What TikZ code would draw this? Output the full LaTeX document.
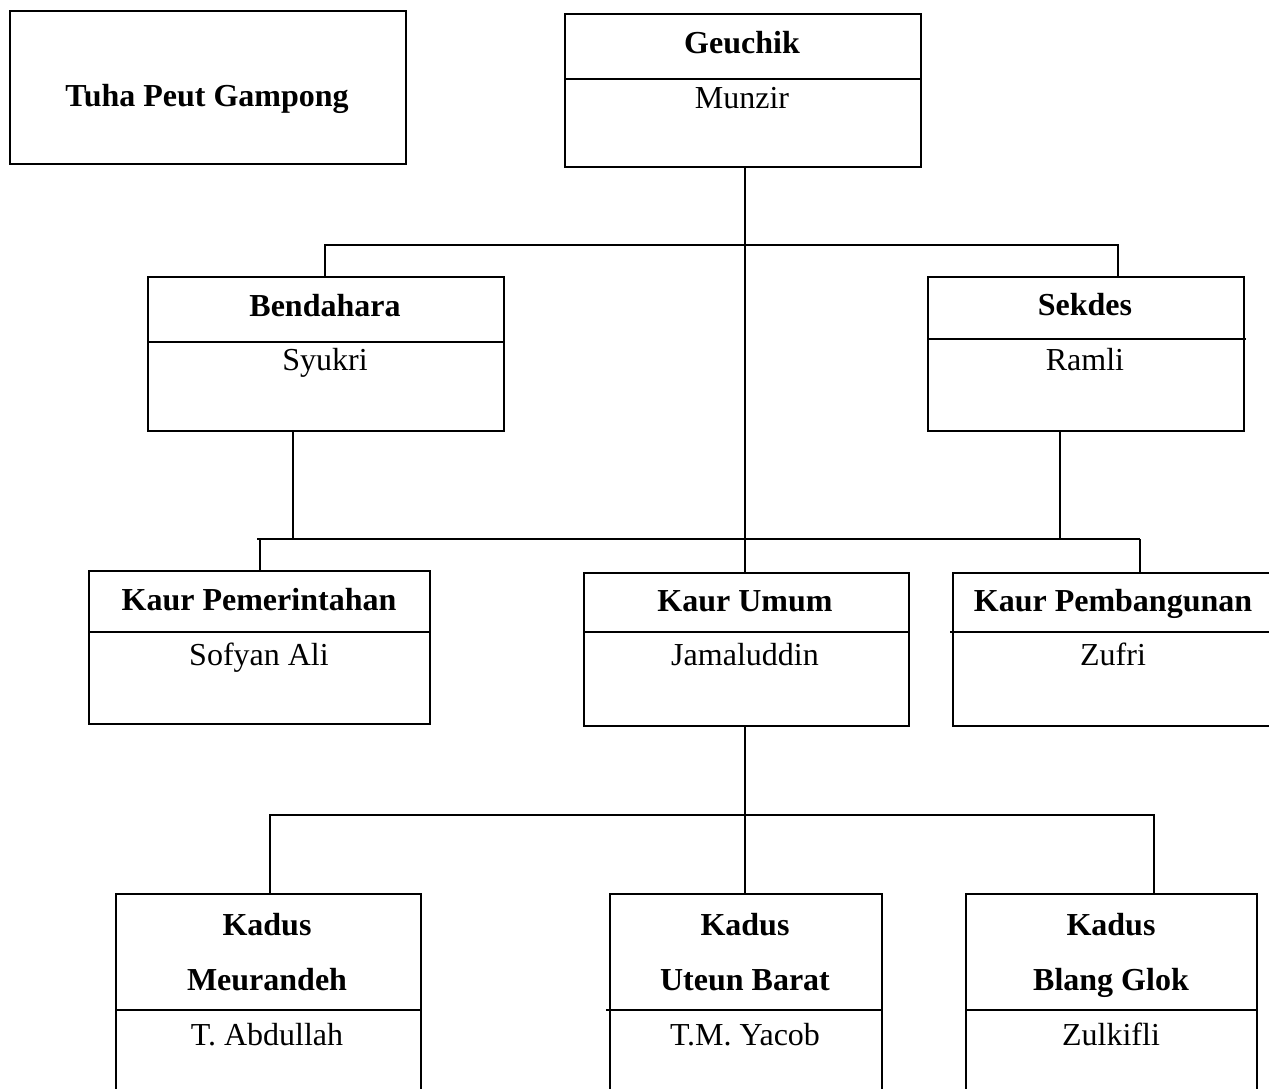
\documentclass[tikz,border=0pt]{standalone}
\usepackage{fontspec}
\setmainfont{Liberation Serif}
\usetikzlibrary{calc}
\begin{document}
\begin{tikzpicture}[x=1pt,y=-1pt,
  box/.style={draw, line width=1.5pt, inner sep=0pt, anchor=north west},
  conn/.style={line width=1.5pt},
  divline/.style={line width=1.5pt},
  ttl/.style={anchor=base, inner sep=0pt, font=\fontsize{32}{38}\selectfont\bfseries},
  nm/.style={anchor=base, inner sep=0pt, font=\fontsize{32}{38}\selectfont}]
\useasboundingbox (0,0) rectangle (1269,1088);
\fill[white] (0,0) rectangle (1269,1088);
\clip (0,0) rectangle (1269,1088);
% boxes
\node[box, minimum width=396pt, minimum height=153pt] (tuha) at (9,10) {};
\node[box, minimum width=356pt, minimum height=153pt] (geu) at (564,13) {};
\node[box, minimum width=356pt, minimum height=154pt] (bend) at (147,276) {};
\node[box, minimum width=316pt, minimum height=154pt] (sek) at (927,276) {};
\node[box, minimum width=341pt, minimum height=153pt] (kpem) at (88,570) {};
\node[box, minimum width=325pt, minimum height=153pt] (kum) at (583,572) {};
\node[box, minimum width=340pt, minimum height=153pt] (kpb) at (952,572) {};
\node[box, minimum width=305pt, minimum height=260pt] (kd1) at (115,893) {};
\node[box, minimum width=272pt, minimum height=260pt] (kd2) at (609,893) {};
\node[box, minimum width=291pt, minimum height=260pt] (kd3) at (965,893) {};
% dividers
\draw[divline] (564,79) -- (920,79);
\draw[divline] (147,342) -- (505,342);
\draw[divline] (927,339) -- (1246,339);
\draw[divline] (88,632) -- (431,632);
\draw[divline] (583,632) -- (910,632);
\draw[divline] (950,632) -- (1292,632);
\draw[divline] (115,1010) -- (420,1010);
\draw[divline] (606,1010) -- (881,1010);
\draw[divline] (965,1010) -- (1256,1010);
% texts
\node[ttl] (tuhat) at (207,106) {Tuha Peut Gampong};
\node[ttl] (geut) at (742,53) {Geuchik};
\node[nm] (geun) at (742,108) {Munzir};
\node[ttl] (bendt) at (325,316) {Bendahara};
\node[nm] (bendn) at (325,370) {Syukri};
\node[ttl] (sekt) at (1085,315) {Sekdes};
\node[nm] (sekn) at (1085,370) {Ramli};
\node[ttl] (kpemt) at (259,610) {Kaur Pemerintahan};
\node[nm] (kpemn) at (259,665) {Sofyan Ali};
\node[ttl] (kumt) at (745,611) {Kaur Umum};
\node[nm] (kumn) at (745,665) {Jamaluddin};
\node[ttl] (kpbt) at (1113,611) {Kaur Pembangunan};
\node[nm] (kpbn) at (1113,665) {Zufri};
\node[ttl] (kd1a) at (267,935) {Kadus};
\node[ttl] (kd1b) at (267,990) {Meurandeh};
\node[nm] (kd1n) at (267,1045) {T. Abdullah};
\node[ttl] (kd2a) at (745,935) {Kadus};
\node[ttl] (kd2b) at (745,990) {Uteun Barat};
\node[nm] (kd2n) at (745,1045) {T.M. Yacob};
\node[ttl] (kd3a) at (1111,935) {Kadus};
\node[ttl] (kd3b) at (1111,990) {Blang Glok};
\node[nm] (kd3n) at (1111,1045) {Zulkifli};
% connector junctions
\coordinate (b1) at (325,245);
\coordinate (b2) at (1118,245);
\coordinate (c0) at (257,539);
\coordinate (c1) at (260,539);
\coordinate (c2) at (1140,539);
\coordinate (cb) at (293,539);
\coordinate (cs) at (1060,539);
\coordinate (d1) at (270,815);
\coordinate (d3) at (1154,815);
\coordinate (m0) at (745,0);
% connectors
\draw[conn] (m0 |- geu.south) -- (m0 |- kum.north);
\draw[conn] (b1 |- bend.north) -- (b1) -- (b2) -- (b2 |- sek.north);
\draw[conn] (cb |- bend.south) -- (cb);
\draw[conn] (cs |- sek.south) -- (cs);
\draw[conn] (c0) -- (c2);
\draw[conn] (c1) -- (c1 |- kpem.north);
\draw[conn] (c2) -- (c2 |- kpb.north);
\draw[conn] (m0 |- kum.south) -- (m0 |- kd2.north);
\draw[conn] (d1 |- kd1.north) -- (d1) -- (d3) -- (d3 |- kd3.north);
\end{tikzpicture}
\end{document}
